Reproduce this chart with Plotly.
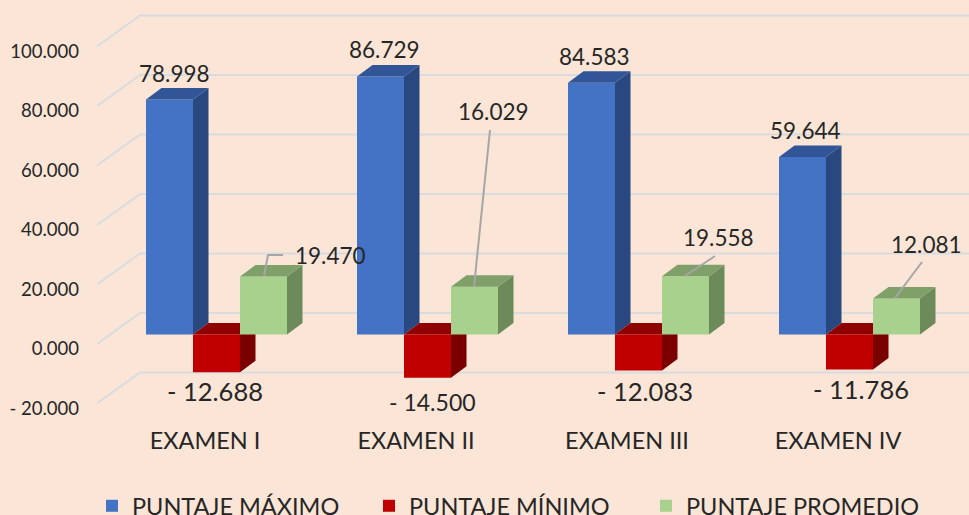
import plotly.graph_objects as go

exams = ['EXAMEN I', 'EXAMEN II', 'EXAMEN III', 'EXAMEN IV']
puntaje_maximo = [78.998, 86.729, 84.583, 59.644]
puntaje_minimo = [-12.688, -14.500, -12.083, -11.786]
puntaje_promedio = [19.470, 16.029, 19.558, 12.081]

tick_values = [-20, 0, 20, 40, 60, 80, 100]
tick_labels = ['- 20.000', '0.000', '20.000', '40.000', '60.000', '80.000', '100.000']

BG = '#FBE5D6'
FONT = 'Lato'
TEXT = '#262626'
GRID = '#D9DCDF'
LEADER = '#A6A6A6'

# pixel layout of the picture
W, H = 969, 515
LEFT, PLOT_BOTTOM = 97, 424
STEP = 211            # px between exams
BAR_X0 = 216.5        # px centre of first bar group
LABEL_X0 = 205        # px centre of first exam label
WALL_Y0 = 349         # px of the 0.000 tick label
BAR_Y0 = 334.5        # px of value 0 at the front of the bars
SCALE = 2.975         # px per unit

BAR_W = 47 / STEP
DEPTH_X = 15.5 / STEP
DEPTH_Y = 11.5 / SCALE
WALL_DX = 43 / STEP
WALL_DY = 31 / SCALE
TICK_DROP = 5 / SCALE  # tick labels sit a little under the gridline ends


def px_x(px):
    return (px - BAR_X0) / STEP


def px_y(py):
    return (BAR_Y0 - py) / SCALE


def faces(values, offset):
    """Side and top parallelograms of each bar, in data units."""
    side_x, side_y, top_x, top_y = [], [], [], []
    for i, v in enumerate(values):
        x0 = i + offset
        x1 = x0 + BAR_W
        side_x += [x1, x1 + DEPTH_X, x1 + DEPTH_X, x1, None]
        side_y += [0, DEPTH_Y, v + DEPTH_Y, v, None]
        level = max(v, 0)
        top_x += [x0, x0 + DEPTH_X, x1 + DEPTH_X, x1, None]
        top_y += [level, level + DEPTH_Y, level + DEPTH_Y, level, None]
    return side_x, side_y, top_x, top_y


fig = go.Figure()

# back wall gridlines, on the base axes
for v in tick_values:
    y0 = v + TICK_DROP
    fig.add_trace(go.Scatter(
        x=[(LEFT - LABEL_X0) / STEP, (LEFT - LABEL_X0) / STEP + WALL_DX, (W - LABEL_X0) / STEP],
        y=[y0, y0 + WALL_DY, y0 + WALL_DY],
        mode='lines', line=dict(color=GRID, width=2),
        showlegend=False, hoverinfo='skip'))

series = [
    ('PUNTAJE MÁXIMO', puntaje_maximo, '#4472C4', '#2A4880', '#325597'),
    ('PUNTAJE MÍNIMO', puntaje_minimo, '#C00000', '#7A0000', '#900000'),
    ('PUNTAJE PROMEDIO', puntaje_promedio, '#A9D18E', '#6C8A5A', '#7FA069'),
]

# each series sits on its own overlaid axes so later series paint over earlier ones
for n, (name, values, front, side, top) in enumerate(series):
    xa, ya = f'x{n + 2}', f'y{n + 2}'
    offset = (n - 1.5) * BAR_W
    fig.add_trace(go.Bar(
        x=list(range(len(exams))), y=values, name=name,
        width=BAR_W, offset=offset, marker=dict(color=front, line=dict(width=0)),
        xaxis=xa, yaxis=ya))
    side_x, side_y, top_x, top_y = faces(values, offset)
    for fx, fy, color in [(side_x, side_y, side), (top_x, top_y, top)]:
        fig.add_trace(go.Scatter(
            x=fx, y=fy, mode='lines', fill='toself', fillcolor=color,
            line=dict(width=0), showlegend=False, hoverinfo='skip',
            xaxis=xa, yaxis=ya))

# label centres in px and font sizes
maximo_pos = [(174, 73), (384, 49), (594, 56), (805, 130)]
minimo_pos = [(215, 391), (432, 402), (645, 391), (861, 389)]
promedio_pos = [(330, 255), (493, 111), (718, 237), (926, 244)]
minimo_sizes = [25.5, 23, 25.5, 25.5]

annotations = []
for values, positions, sizes in [(puntaje_maximo, maximo_pos, [22.5] * 4),
                                 (puntaje_minimo, minimo_pos, minimo_sizes),
                                 (puntaje_promedio, promedio_pos, [22.5] * 4)]:
    for v, (px, py), size in zip(values, positions, sizes):
        txt = f'{v:.3f}' if v >= 0 else f'- {abs(v):.3f}'
        annotations.append(dict(
            x=px_x(px), y=px_y(py), xref='x4', yref='y4', text=txt, showarrow=False,
            font=dict(family=FONT, size=size, color=TEXT)))

# leader lines of the average labels
leaders = [
    [(264, 276), (268, 255), (283, 255)],
    [(474, 287), (490, 130)],
    [(685, 276), (715, 256)],
    [(895, 298), (922, 262)],
]
for pts in leaders:
    fig.add_trace(go.Scatter(
        x=[px_x(p[0]) for p in pts], y=[px_y(p[1]) for p in pts],
        mode='lines', line=dict(color=LEADER, width=2),
        showlegend=False, hoverinfo='skip', xaxis='x4', yaxis='y4'))

bar_xrange = [px_x(LEFT), px_x(W)]
bar_yrange = [px_y(PLOT_BOTTOM), px_y(0)]

layout_axes = {}
for n in (2, 3, 4):
    layout_axes[f'xaxis{n}'] = dict(overlaying='x', anchor=f'y{n}', range=bar_xrange, visible=False)
    layout_axes[f'yaxis{n}'] = dict(overlaying='y', anchor=f'x{n}', range=bar_yrange, visible=False)

fig.update_layout(
    width=W, height=H,
    paper_bgcolor=BG, plot_bgcolor=BG,
    margin=dict(l=LEFT, r=0, t=0, b=H - PLOT_BOTTOM, autoexpand=False),
    font=dict(family=FONT, color=TEXT),
    annotations=annotations,
    xaxis=dict(
        range=[(LEFT - LABEL_X0) / STEP, (W - LABEL_X0) / STEP],
        tickvals=list(range(len(exams))), ticktext=exams,
        tickfont=dict(size=23.5), showgrid=False, zeroline=False, showline=False, ticks=''),
    yaxis=dict(
        range=[(WALL_Y0 - PLOT_BOTTOM) / SCALE, WALL_Y0 / SCALE],
        tickvals=tick_values, ticktext=tick_labels,
        tickfont=dict(size=18.5), ticklabelstandoff=17,
        showgrid=False, zeroline=False, showline=False, ticks=''),
    legend=dict(
        orientation='h', x=(92 - LEFT) / (W - LEFT), xanchor='left',
        y=-(484 - PLOT_BOTTOM) / PLOT_BOTTOM, yanchor='top',
        entrywidth=232, entrywidthmode='pixels',
        font=dict(size=23.5), bgcolor='rgba(0,0,0,0)'),
    showlegend=True,
    **layout_axes,
)

# the page's default body margin would leave a white strip round the chart
fig.write_html('out.html', config={'displayModeBar': False},
               post_script="document.body.style.margin='0';document.body.style.overflow='hidden';")
